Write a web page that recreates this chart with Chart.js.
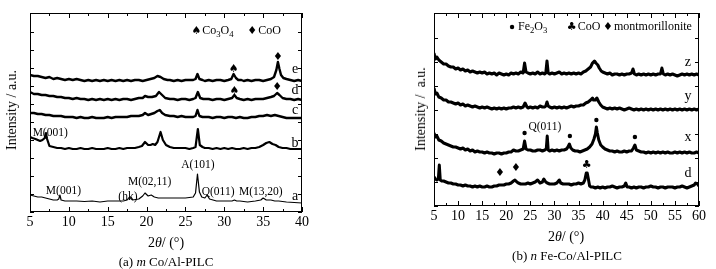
<!DOCTYPE html>
<html>
<head>
<meta charset="utf-8">
<script src="https://cdn.jsdelivr.net/npm/chart.js@4.4.1/dist/chart.umd.min.js"></script>
<style>
  body { margin: 0; background: #fff; }
  #wrap { position: relative; width: 716px; height: 269px; overflow: hidden; font-family: "Liberation Serif", serif; color: #000; }
  .cv { position: absolute; top: 0; }
  .txt { position: absolute; transform: translate(-50%, -50%); white-space: nowrap; font-size: 13px; }
  .ytitle { position: absolute; transform: translate(-50%, -50%) rotate(-90deg); white-space: nowrap; font-size: 14px; }
</style>
</head>
<body>
<div id="wrap">
  <canvas id="chartA" class="cv" style="left:0px" width="358" height="269"></canvas>
  <canvas id="chartB" class="cv" style="left:358px" width="358" height="269"></canvas>
  <div class="ytitle" style="left:12px; top:110px">Intensity / a.u.</div>
  <div class="ytitle" style="left:421px; top:109px">Intensity /&nbsp; a.u.</div>
  <div class="txt" style="left:166px; top:243px; font-size:14px">2<i>θ</i>/ (°)</div>
  <div class="txt" style="left:566px; top:237px; font-size:14px">2<i>θ</i>/ (°)</div>
  <div class="txt" style="left:166px; top:262px">(a) <i>m</i> Co/Al-PILC</div>
  <div class="txt" style="left:567px; top:256px">(b) <i>n</i> Fe-Co/Al-PILC</div>
</div>
<script>
// ---- data, panel (a) : 2theta, intensity pairs (curves are stacked, arbitrary units)
var aTheta = [5, 40];
var curveA_e = [5,137, 5.5,136, 6,136, 6.5,135, 7,134, 7.5,135, 8,133, 8.5,134, 9,133, 9.5,132, 10,133, 10.5,132, 11,133, 11.5,132, 12,131, 12.5,132, 13,131, 13.5,132, 14,131, 14.5,132, 15,131, 15.5,132, 16,131, 16.5,132, 17,131, 17.5,132, 18,131, 18.5,132, 19,132, 19.5,131, 20,132, 20.5,133, 21,134, 21.4,136, 21.8,135, 22.2,133, 22.7,132, 23,132, 23.5,131, 24,132, 24.5,131, 25,132, 25.5,132, 26,132, 26.3,133, 26.55,138, 26.8,133, 27.2,132, 27.5,131, 28,132, 28.5,131, 29,132, 29.5,132, 30,131, 30.5,132, 30.9,133, 31.2,138, 31.5,134, 31.8,132, 32.2,132, 32.5,131, 33,132, 33.5,131, 34,132, 34.5,132, 35,131, 35.5,132, 36,133, 36.4,135, 36.7,142, 36.9,150, 37.1,143, 37.3,137, 37.6,134, 38,133, 38.5,132, 39,131, 39.5,132, 40,131];
var curveA_d = [5,120, 5.5,118, 6,118, 6.5,117, 7,117, 7.5,116, 8,116, 8.5,115, 9,115, 9.5,114, 10,114, 10.5,113, 11,114, 11.5,113, 12,113, 12.5,112, 13,113, 13.5,112, 14,113, 14.5,112, 15,113, 15.5,112, 16,113, 16.5,112, 17,113, 17.5,113, 18,112, 18.5,113, 19,114, 19.5,114, 19.8,116, 20.2,115, 20.7,115, 21.2,116, 21.6,120, 22,117, 22.4,114, 23,113, 23.5,113, 24,112, 24.5,113, 25,113, 25.5,112, 26,113, 26.3,114, 26.6,120, 26.9,114, 27.3,113, 28,113, 28.5,112, 29,113, 29.5,113, 30,112, 30.5,113, 31,114, 31.3,117, 31.6,114, 32,113, 32.5,112, 33,113, 33.5,112, 34,113, 34.5,113, 35,113, 35.5,114, 36,115, 36.4,116, 36.8,119, 37.1,117, 37.5,114, 38,113, 38.5,113, 39,112, 39.5,113, 40,112];
var curveA_c = [5,99, 5.5,99, 6,98, 6.5,98, 7,97, 7.5,97, 8,96, 8.5,96, 9,96, 9.5,95, 10,95, 10.5,95, 11,94, 11.5,95, 12,94, 12.5,94, 13,95, 13.5,94, 14,94, 14.5,94, 15,95, 15.5,94, 16,95, 16.5,95, 17,95, 17.5,95, 18,96, 18.5,96, 19,96, 19.5,97, 19.8,99, 20.2,97, 20.6,98, 21,99, 21.4,101, 21.7,102, 22,99, 22.4,97, 23,96, 23.5,96, 24,95, 24.5,96, 25,95, 25.5,95, 26,95, 26.3,96, 26.55,102, 26.8,96, 27.2,95, 28,95, 28.5,94, 29,95, 29.5,95, 30,94, 30.5,95, 31,95, 31.5,94, 32,95, 32.5,94, 33,94, 33.5,95, 34,95, 34.5,96, 35,96, 35.5,97, 36,96, 36.5,97, 37,96, 37.5,95, 38,94, 38.5,94, 39,94, 39.5,94, 40,94];
var curveA_b = [5,75, 5.3,74, 5.7,73, 6,72, 6.3,71, 6.6,72, 6.9,74, 7.05,79, 7.2,73, 7.5,66, 8,65, 8.5,64, 9,64, 9.5,63, 10,64, 10.5,63, 11,63, 11.5,64, 12,63, 12.5,63, 13,64, 13.5,63, 14,63, 14.5,63, 15,64, 15.5,63, 16,63, 16.5,64, 17,63, 17.5,64, 18,64, 18.5,64, 19,65, 19.4,66, 19.8,70, 20.2,67, 20.5,67, 20.8,68, 21.1,67, 21.4,70, 21.8,80, 22.1,72, 22.5,67, 23,65, 23.5,64, 24,64, 24.5,64, 25,64, 25.5,63, 26,64, 26.3,65, 26.6,83, 26.85,67, 27.2,65, 27.5,64, 28,64, 28.5,63, 29,64, 29.5,63, 30,64, 30.5,63, 31,64, 31.5,63, 32,63, 32.5,64, 33,63, 33.5,64, 34,64, 34.5,65, 35,67, 35.4,69, 35.8,70, 36.2,68, 36.6,67, 37,65, 37.5,64, 38,64, 38.5,63, 39,63, 39.5,63, 40,63];
var curveA_a = [5,17, 5.5,16, 6,15, 6.5,15, 7,14, 7.5,13, 8,12, 8.5,12, 8.7,13, 8.85,17, 9,12, 9.5,11, 10,11, 11,11, 12,10.5, 13,11, 14,10, 15,11, 16,11, 17,11, 17.5,12, 17.8,15, 18.2,12, 19,13, 19.5,16, 19.8,19, 20.2,16, 20.6,17, 21,15, 21.5,14, 22,14, 23,14, 24,14, 25,14, 26,15, 26.3,19, 26.55,38, 26.8,20, 27.1,15, 27.5,14, 27.8,17, 28.1,13, 29,11, 30,11, 31,11, 31.3,12, 31.6,11, 32,11, 33,10, 34,11, 34.7,12, 35,14, 35.4,12, 36,12, 36.5,11, 37,11, 38,10, 39,9.5, 40,9];

// ---- data, panel (b)
var bTheta = [5, 60];
var curveB_z = [5,153, 5.3,147, 5.6,149, 6,146, 6.5,144, 7,142, 7.5,142, 8,140, 8.5,139, 9,139, 9.5,137, 10,138, 10.5,136, 11,137, 11.5,135, 12,136, 12.5,134, 13,135, 13.5,134, 14,133, 14.5,134, 15,133, 15.5,134, 16,132, 16.5,133, 17,132, 17.5,133, 18,131, 18.5,133, 19,132, 19.5,131, 20,132, 20.5,131, 21,133, 21.5,132, 22,133, 22.5,132, 23,134, 23.5,133, 23.8,143, 24.1,134, 24.5,133, 25,132, 25.5,133, 26,132, 26.5,134, 27,132, 27.5,133, 28,132, 28.2,133, 28.45,145, 28.7,133, 29,132, 29.5,133, 30,132, 30.5,133, 31,134, 31.5,132, 32,133, 32.5,132, 33,133, 33.5,132, 34,133, 34.5,132, 35,133, 35.5,132, 36,134, 36.5,135, 37,137, 37.5,139, 37.9,143, 38.3,145, 38.6,143, 39,141, 39.3,138, 39.7,135, 40,134, 40.5,133, 41,132, 41.5,133, 42,131, 42.5,132, 43,132, 43.5,131, 44,132, 44.5,131, 45,132, 45.5,132, 46,133, 46.3,137, 46.6,132, 47,131, 47.5,132, 48,131, 48.5,132, 49,131, 49.5,132, 50,131, 50.5,132, 51,131, 51.5,132, 52,132, 52.3,138, 52.6,132, 53,131, 53.5,132, 54,131, 54.5,132, 55,131, 55.5,130, 56,131, 56.5,132, 57,131, 57.5,132, 58,131, 58.5,132, 59,131, 59.5,132, 60,131];
var curveB_y = [5,118, 5.3,112, 5.6,113, 6,109, 6.5,108, 7,106, 7.5,106, 8,104, 8.5,104, 9,103, 9.5,102, 10,103, 10.5,101, 11,102, 11.5,100, 12,101, 12.5,100, 13,99, 13.5,100, 14,99, 14.5,98, 15,99, 15.5,98, 16,99, 16.5,98, 17,97, 17.5,98, 18,97, 18.5,98, 19,97, 19.5,98, 20,97, 20.5,98, 21,98, 21.5,99, 22,98, 22.5,99, 23,98, 23.5,99, 23.9,103, 24.3,99, 24.5,98, 25,99, 25.5,98, 26,99, 26.5,98, 27,100, 27.5,99, 28,99, 28.2,100, 28.45,104, 28.7,100, 29,99, 29.5,98, 30,99, 30.5,98, 31,99, 31.5,98, 32,99, 32.5,98, 33,99, 33.5,100, 34,99, 34.5,100, 35,100, 35.5,101, 36,101, 36.5,103, 37,104, 37.5,106, 37.9,108, 38.1,106, 38.5,106, 38.8,108, 39.2,104, 39.6,101, 40,99, 40.5,98, 41,97, 41.5,98, 42,97, 42.5,98, 43,97, 43.5,98, 44,97, 44.5,96, 45,97, 45.5,98, 46,97, 46.5,96, 47,97, 47.5,96, 48,97, 48.5,96, 49,97, 49.5,96, 50,97, 50.5,96, 51,97, 51.5,96, 52,97, 52.5,96, 53,97, 53.5,96, 54,97, 54.5,96, 55,97, 55.5,96, 56,97, 56.5,96, 57,97, 57.5,96, 58,97, 58.5,96, 59,97, 59.5,96, 60,97];
var curveB_x = [5,73, 5.3,69, 5.6,70, 6,66, 6.5,65, 7,63, 7.5,62, 8,61, 8.5,60, 9,59, 9.5,59, 10,58, 10.5,57, 11,58, 11.5,56, 12,57, 12.5,55, 13,56, 13.5,54, 14,55, 14.5,54, 15,54, 15.5,53, 16,54, 16.5,53, 17,53, 17.5,52, 18,53, 18.5,53, 19,52, 19.5,53, 20,53, 20.5,54, 21,54, 21.5,56, 22,55, 22.5,55, 23,56, 23.5,57, 23.8,65, 24.1,57, 24.5,56, 25,56, 25.5,55, 26,55, 26.5,56, 27,56, 27.5,55, 28,56, 28.3,57, 28.5,70, 28.7,56, 29,55, 29.5,56, 30,55, 30.5,56, 31,55, 31.5,56, 32,56, 32.5,57, 32.8,59, 33.1,62, 33.4,58, 33.8,56, 34.3,55, 34.8,55, 35.3,54, 35.8,55, 36.3,56, 36.8,57, 37.3,59, 37.8,62, 38.2,67, 38.5,72, 38.7,79, 38.9,73, 39.2,66, 39.6,61, 40,59, 40.5,57, 41,56, 41.5,55, 42,55, 42.5,54, 43,55, 43.5,54, 44,54, 44.5,55, 45,54, 45.5,55, 46,55, 46.4,58, 46.7,61, 47,56, 47.5,55, 48,54, 48.5,54, 49,53, 49.5,54, 50,53, 50.5,54, 51,53, 51.5,54, 52,53, 52.5,54, 53,53, 53.5,54, 54,53, 54.5,53, 55,54, 55.5,53, 56,54, 56.5,53, 57,54, 57.5,53, 58,54, 58.5,53, 59,53, 59.5,54, 60,53];
var curveB_d = [5,29, 5.3,27, 5.6,26, 5.9,27, 6.1,41, 6.3,26, 6.6,25, 7,25, 7.5,24, 8,23, 8.5,23, 9,22, 9.5,22, 10,21, 10.5,21, 11,20, 11.5,21, 12,20, 12.5,20, 13,19, 13.5,20, 14,19, 14.5,20, 15,19, 15.5,19, 16,20, 16.5,19, 17,19, 17.5,20, 18,20, 18.5,21, 19,21, 19.5,21, 20,22, 20.5,22, 21,23, 21.5,25, 21.8,26, 22.2,24, 22.5,23, 23,22, 23.5,22, 24,22, 24.5,23, 25,22, 25.5,23, 26,24, 26.5,26, 27,23, 27.5,24, 27.8,27, 28.2,24, 28.5,23, 29,22, 29.5,22, 30,22, 30.5,23, 31,26, 31.3,23, 31.8,22, 32.5,22, 33,22, 33.5,21, 34,22, 34.5,22, 35,23, 35.5,22, 36,23, 36.3,26, 36.6,33, 36.8,33, 37,28, 37.3,20, 37.6,19, 38,19, 38.5,18, 39,19, 39.5,18, 40,19, 40.5,18, 41,19, 41.5,19, 42,20, 42.5,19, 43,18, 43.5,19, 44,19, 44.5,20, 44.8,23, 45.1,19, 45.5,19, 46,18, 46.5,19, 47,18, 47.5,19, 48,19, 48.5,18, 49,19, 49.5,19, 50,20, 50.5,19, 51,19, 51.5,18, 52,19, 52.5,19, 53,18, 53.5,19, 54,19, 54.5,19, 55,18, 55.5,19, 56,19, 56.5,20, 57,19, 57.5,18, 58,19, 58.5,20, 59,21, 59.3,23, 59.7,22, 60,20];

// text on the plots: [text, 2theta, intensity]
var aLabels = [['e', 39.1, 143], ['d', 39.1, 122], ['c', 39.1, 102], ['b', 39.1, 69], ['a', 39.1, 16],
  ['M(001)', 7.6, 79], ['M(001)', 9.3, 21], ['(hk)', 17.6, 15], ['M(02,11)', 20.4, 30],
  ['A(101)', 26.6, 47], ['Q(011)', 29.2, 20], ['M(13,20)', 34.7, 20]];
var aMarks = [['♠', 31.2, 143], ['♦', 36.9, 155], ['♠', 31.3, 121], ['♦', 36.8, 125]];
var aLegend = [['♠', 'Co_3O_4', 26.4, 181], ['♦', 'CoO', 33.6, 181]];

var bLabels = [['z', 57.7, 144], ['y', 57.7, 110], ['x', 57.7, 69], ['d', 57.7, 33], ['Q(011)', 28.0, 79]];
var bMarks = [['•', 23.8, 73], ['•', 33.2, 70], ['•', 38.7, 86], ['•', 46.7, 69],
  ['♦', 18.7, 33], ['♦', 22.0, 38], ['♣', 36.7, 41]];
var bLegend = [['•', 'Fe_2O_3', 21.2, 179], ['♣', 'CoO', 33.6, 179], ['♦', 'montmorillonite', 41.1, 179]];

function toPoints(arr) {
  var pts = [];
  for (var i = 0; i < arr.length; i += 2) pts.push({x: arr[i], y: arr[i + 1]});
  return pts;
}

var SERIF = '"Liberation Serif", "Times New Roman", serif';

// text with _n subscripts
function drawRich(ctx, str, x, y, size) {
  var i = 0;
  while (i < str.length) {
    var sub = false, ch = str[i];
    if (ch === '_') { sub = true; ch = str[i + 1]; i += 2; } else { i += 1; }
    ctx.font = (sub ? size * 0.72 : size) + 'px ' + SERIF;
    ctx.fillText(ch, x, sub ? y + size * 0.28 : y);
    x += ctx.measureText(ch).width;
  }
}

// marker glyph, the dot is drawn as a filled circle
function drawMark(ctx, sym, px, py) {
  if (sym === '•') {
    ctx.beginPath();
    ctx.arc(px, py, 2.2, 0, Math.PI * 2);
    ctx.fill();
    return;
  }
  ctx.textAlign = 'center';
  ctx.font = '11px "DejaVu Sans"';
  ctx.fillText(sym, px, py);
}

// frame, inward ticks and the text inside the plot
var framePlugin = {
  id: 'frame',
  afterDatasetsDraw: function(chart, args, opts) {
    var ctx = chart.ctx, a = chart.chartArea;
    var xs = chart.scales.x, ys = chart.scales.y;
    ctx.save();
    ctx.strokeStyle = '#000';
    ctx.lineWidth = 1;
    ctx.strokeRect(a.left + 0.5, a.top + 0.5, a.right - a.left - 1, a.bottom - a.top - 1);
    ctx.beginPath();
    xs.ticks.forEach(function(t) {
      var px = Math.round(xs.getPixelForValue(t.value)) + 0.5;
      var len = (t.value % 5 === 0) ? 5 : 3;
      ctx.moveTo(px, a.bottom); ctx.lineTo(px, a.bottom - len);
      ctx.moveTo(px, a.top); ctx.lineTo(px, a.top + len);
    });
    ys.ticks.forEach(function(t) {
      var py = Math.round(ys.getPixelForValue(t.value)) + 0.5;
      ctx.moveTo(a.left, py); ctx.lineTo(a.left + 4, py);
      ctx.moveTo(a.right, py); ctx.lineTo(a.right - 4, py);
    });
    ctx.stroke();

    ctx.fillStyle = '#000';
    ctx.textBaseline = 'middle';
    ctx.textAlign = 'center';
    opts.labels.forEach(function(l) {
      ctx.font = (l[0].length === 1 ? 14 : 11.5) + 'px ' + SERIF;
      ctx.fillText(l[0], xs.getPixelForValue(l[1]), ys.getPixelForValue(l[2]));
    });
    opts.marks.forEach(function(m) {
      drawMark(ctx, m[0], xs.getPixelForValue(m[1]), ys.getPixelForValue(m[2]));
    });
    opts.legend.forEach(function(g) {
      var px = xs.getPixelForValue(g[2]), py = ys.getPixelForValue(g[3]);
      drawMark(ctx, g[0], px, py);
      ctx.textAlign = 'left';
      drawRich(ctx, g[1], px + 6, py, 12);
    });
    ctx.restore();
  }
};

function makeChart(id, range, curves, widths, box, yMax, yStep, notes) {
  var sets = curves.map(function(c, i) {
    return { data: toPoints(c), borderColor: '#000', borderWidth: widths[i], pointRadius: 0, tension: 0, borderJoinStyle: 'round', fill: false };
  });
  return new Chart(document.getElementById(id), {
    type: 'line',
    data: { datasets: sets },
    plugins: [framePlugin],
    options: {
      responsive: false,
      animation: false,
      layout: { padding: { top: box.top, right: 358 - box.right, left: 0, bottom: 0 } },
      plugins: { legend: { display: false }, tooltip: { enabled: false }, frame: notes },
      scales: {
        x: {
          type: 'linear', min: range[0], max: range[1],
          grid: { display: false, drawTicks: false }, border: { display: false },
          ticks: { stepSize: 2.5, autoSkip: false, maxRotation: 0, padding: 2, color: '#000',
            font: { family: SERIF, size: 14 },
            callback: function(v) { return v % 5 === 0 ? v : ''; } },
          afterFit: function(s) { s.height = 269 - box.bottom; }
        },
        y: {
          min: 0, max: yMax,
          grid: { display: false, drawTicks: false }, border: { display: false },
          ticks: { display: false, stepSize: yStep },
          afterFit: function(s) { s.width = box.left; }
        }
      }
    }
  });
}

makeChart('chartA', aTheta, [curveA_e, curveA_d, curveA_c, curveA_b, curveA_a], [2.4, 2.4, 2.4, 2.2, 1.2],
  { left: 30, right: 302, top: 13, bottom: 212 }, 199, 18,
  { labels: aLabels, marks: aMarks, legend: aLegend });

makeChart('chartB', bTheta, [curveB_z, curveB_y, curveB_x, curveB_d], [3, 3, 3, 3],
  { left: 76, right: 341, top: 13, bottom: 206 }, 193, 24,
  { labels: bLabels, marks: bMarks, legend: bLegend });
</script>
</body>
</html>
